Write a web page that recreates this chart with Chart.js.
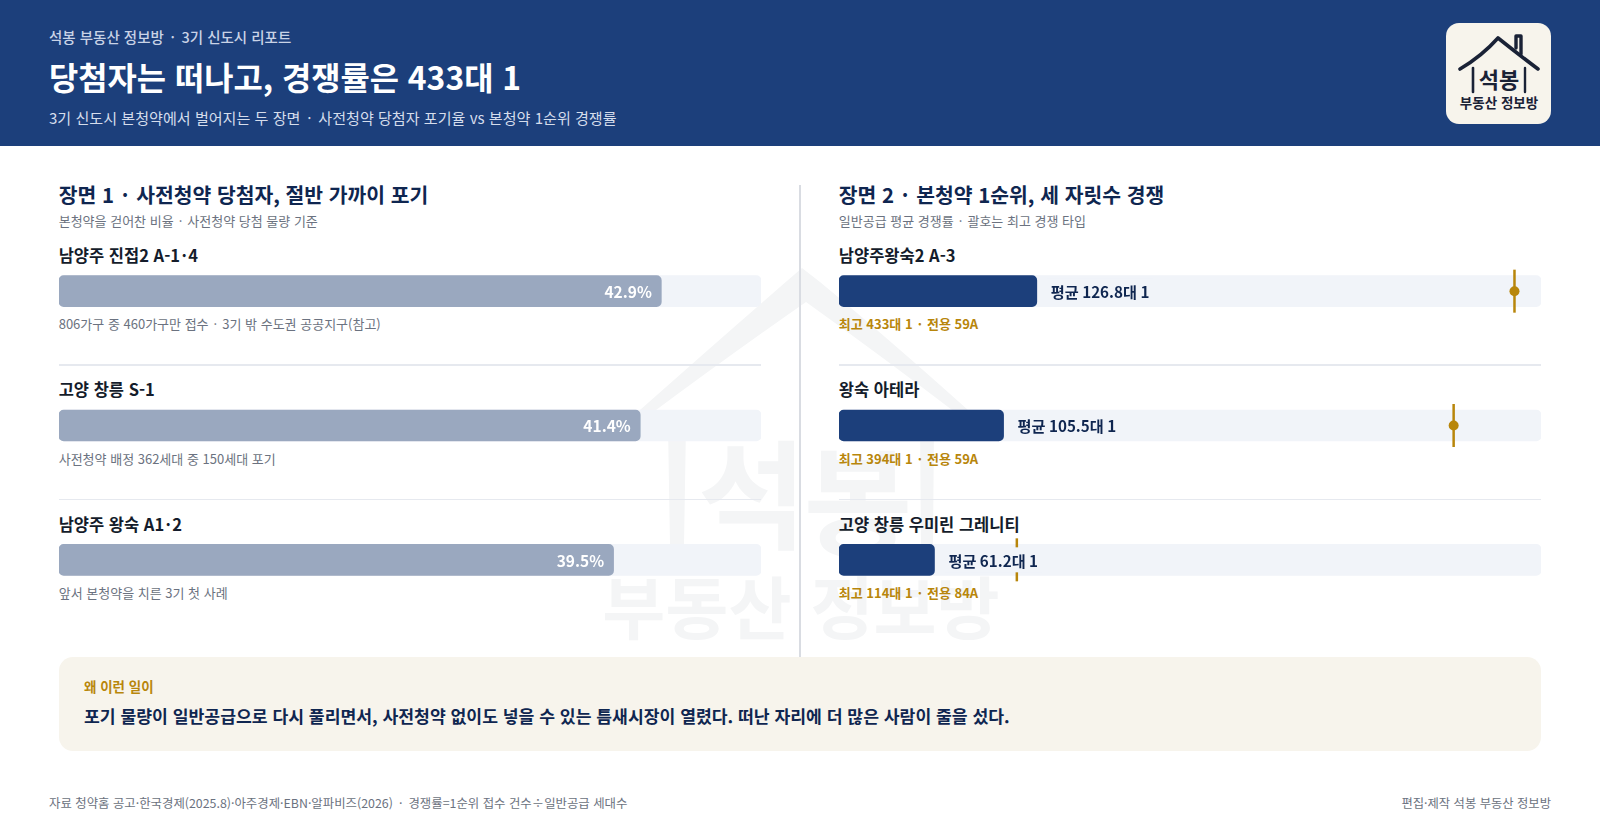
<!DOCTYPE html>
<html lang="ko"><head><meta charset="utf-8">
<script src="https://cdn.jsdelivr.net/npm/chart.js@4"></script>
<style>
*{margin:0;padding:0;box-sizing:border-box}
html,body{width:1600px;height:829px;overflow:hidden;background:#fff;font-family:"Noto Sans CJK KR","Noto Sans",sans-serif}
.t{position:absolute;white-space:nowrap;line-height:24px;height:24px}
.d{margin:0 2.6px}
.s{margin:0 2.1px}
.m{margin:0 1.4px}
.n{margin:0 1.4px}
#hdr{position:absolute;left:0;top:0;width:1600px;height:146px;background:#1c3f7b}
#logo{position:absolute;left:1446px;top:23px;width:105px;height:101px;background:#f7f4ec;border-radius:13px}
#wm{position:absolute;left:580px;top:260px}
canvas{display:block}
.cv{position:absolute;top:224px;width:702.4px;height:403.5px}
.sep{position:absolute;height:1.5px;width:702.4px;background:#e6e9ef}
#div{position:absolute;left:799px;top:185px;width:2px;height:472px;background:#d9dce2}
#box{position:absolute;left:58.7px;top:657px;width:1482.3px;height:94px;background:#f7f4ec;border-radius:14px}
.sec{font-size:20.4px;font-weight:700;color:#0f2650}
.secsub{font-size:13px;color:#6b7280}
.name{font-size:16.5px;font-weight:600;color:#141c2b}
.note{font-size:13px;color:#6b7280}
.gold{font-size:13px;font-weight:600;color:#b8860b}
</style></head><body>
<svg id="wm" width="440" height="400" viewBox="0 0 440 400">
 <g fill="#f4f5f6">
  <path d="M60 150 Q150 70 222 8 L240 22 Q310 80 388 150 L380 156 Q300 95 226 42 Q150 95 68 156 Z"/>
  <path d="M88 165 L106 165 L104 285 L90 285 Z"/>
  <path d="M340 165 L354 165 L353 285 L341 285 Z"/>
 </g>
 <text x="172" y="280" text-anchor="middle" font-size="118" font-weight="700" fill="#f4f5f6" font-family="Noto Sans CJK KR">석</text>
 <text x="278" y="287" text-anchor="middle" font-size="118" font-weight="700" fill="#f4f5f6" font-family="Noto Sans CJK KR">봉</text>
 <text x="221" y="374" text-anchor="middle" font-size="68.5" font-weight="700" fill="#f4f5f6" font-family="Noto Sans CJK KR">부동산 정보방</text>
</svg>
<div id="hdr"></div>
<div class="t" style="left:49px;top:25px;font-size:14.5px;font-weight:500;color:#c9d3e6">석봉 부동산 정보방 <span class="d">·</span> 3기 신도시 리포트</div>
<div class="t" style="left:49px;top:63px;font-size:31.8px;font-weight:700;color:#fff;line-height:26px;height:26px">당첨자는 떠나고, 경쟁률은 433대 1</div>
<div class="t" style="left:49px;top:106px;font-size:15.08px;color:#d5ddec">3기 신도시 본청약에서 벌어지는 두 장면 <span class="d">·</span> 사전청약 당첨자 포기율 vs 본청약 1순위 경쟁률</div>
<div id="logo"></div>
<svg style="position:absolute;left:1430px;top:10px" width="140" height="130" viewBox="0 0 140 130">
 <g fill="none" stroke="#1a2236" stroke-linecap="round" stroke-linejoin="round">
  <path d="M30 59 Q52 46 68 28 Q88 44 108 59" stroke-width="3.6"/>
  <path d="M86 38 V26 H91 V44" stroke-width="3.4"/>
  <path d="M43 58 V82" stroke-width="2.6"/>
  <path d="M95 58 V82" stroke-width="2.4"/>
 </g>
 <text x="69" y="78" text-anchor="middle" font-size="22" font-weight="700" fill="#1a2236" font-family="Noto Sans CJK KR">석봉</text>
 <text x="69" y="98" text-anchor="middle" font-size="13.5" font-weight="700" fill="#1a2236" font-family="Noto Sans CJK KR">부동산 정보방</text>
</svg>

<div class="t sec" style="left:58.7px;top:182px">장면 1 <span class="s">·</span> 사전청약 당첨자, 절반 가까이 포기</div>
<div class="t secsub" style="left:58.7px;top:209px">본청약을 걷어찬 비율 <span class="m">·</span> 사전청약 당첨 물량 기준</div>
<div class="t sec" style="left:838.8px;top:182px">장면 2 <span class="s">·</span> 본청약 1순위, 세 자릿수 경쟁</div>
<div class="t secsub" style="left:838.8px;top:209px">일반공급 평균 경쟁률 <span class="m">·</span> 괄호는 최고 경쟁 타입</div>
<div id="div"></div>
<div class="sep" style="left:58.7px;top:364px"></div><div class="sep" style="left:58.7px;top:498.6px"></div>
<div class="sep" style="left:838.8px;top:364px"></div><div class="sep" style="left:838.8px;top:498.6px"></div>
<div id="rows"></div>
<div class="cv" style="left:58.7px"><canvas id="c1" width="702" height="403"></canvas></div>
<div class="cv" style="left:838.8px"><canvas id="c2" width="702" height="403"></canvas></div>
<div id="box"></div>
<div class="t" style="left:84px;top:673.5px;font-size:13.5px;font-weight:600;color:#b8860b">왜 이런 일이</div>
<div class="t" style="left:84px;top:703.5px;font-size:17.2px;font-weight:700;color:#0f2650">포기 물량이 일반공급으로 다시 풀리면서, 사전청약 없이도 넣을 수 있는 틈새시장이 열렸다. 떠난 자리에 더 많은 사람이 줄을 섰다.</div>
<div class="t" style="left:49px;top:791px;font-size:12.4px;color:#6b7280">자료 청약홈 공고·한국경제(2025.8)·아주경제·EBN·알파비즈(2026) <span class="d">·</span> 경쟁률=1순위 접수 건수÷일반공급 세대수</div>
<div class="t" style="right:49px;top:791px;font-size:12.3px;color:#6b7280">편집·제작 석봉 부동산 정보방</div>
<script>
const giveUpNames = ['남양주 진접2 A-1·4','고양 창릉 S-1','남양주 왕숙 A1·2'];
const giveUpRates = [42.9,41.4,39.5];
const giveUpNotes = ['806가구 중 460가구만 접수 · 3기 밖 수도권 공공지구(참고)','사전청약 배정 362세대 중 150세대 포기','앞서 본청약을 치른 3기 첫 사례'];
const giveUpMax = 50;
const compNames = ['남양주왕숙2 A-3','왕숙 아테라','고양 창릉 우미린 그레니티'];
const compAvg = [126.8,105.5,61.2];
const compTop = [433,394,114];
const compTypes = ['59A','59A','84A'];
const compMax = 450;

const NAVY='#1c3f7b', GREY='#9aa8bf', TRACK='#f1f4f9', GOLD='#b8860b', INK='#0f2650';
const rowsEl=document.getElementById('rows');
const rowTops=[242.5,377,511.5], noteTops=[312,446.5,581];
function addT(x,y,cls,txt,dotCls){const d=document.createElement('div');d.className='t '+cls;d.style.left=x+'px';d.style.top=y+'px';
  txt.split('·').forEach((p,i)=>{if(i){const s=document.createElement('span');s.className=dotCls;s.textContent='·';d.appendChild(s);}d.appendChild(document.createTextNode(p));});
  rowsEl.appendChild(d);}
giveUpNames.forEach((n,i)=>{addT(58.7,rowTops[i],'name',n,'n');addT(58.7,noteTops[i],'note',giveUpNotes[i],'m');});
compNames.forEach((n,i)=>{addT(838.8,rowTops[i],'name',n,'n');addT(838.8,noteTops[i],'gold','최고 '+compTop[i]+'대 1 · 전용 '+compTypes[i],'m');});

const valueLabels={id:'valueLabels',afterDatasetsDraw(chart,a,o){
  const {ctx,scales:{x,y}}=chart;ctx.save();ctx.textBaseline='middle';
  o.values.forEach((v,i)=>{
    const yp=y.getPixelForValue(i), end=x.getPixelForValue(v);
    ctx.font=o.font;
    if(o.inside){ctx.fillStyle='#fff';ctx.textAlign='right';ctx.fillText(v.toFixed(1)+'%',end-9.5,yp+1);}
    else{const s='평균 '+v.toFixed(1)+'대 1', w=ctx.measureText(s).width;
      ctx.fillStyle=TRACK;ctx.fillRect(end+10,yp-12.5,w+8,25);
      ctx.fillStyle=INK;ctx.textAlign='left';ctx.fillText(s,end+14,yp+1);}
  });ctx.restore();}};
const base=(max)=>({responsive:false,animation:false,indexAxis:'y',maintainAspectRatio:false,
  layout:{padding:0,autoPadding:false},events:[],
  scales:{x:{type:'linear',display:false,min:0,max:max,grid:{display:false}},
          y:{type:'category',display:false,grid:{display:false},offset:true}}});
const barDs=(data,color,order)=>({type:'bar',data,backgroundColor:color,barThickness:31,grouped:false,borderRadius:5,borderSkipped:false,order});

function mk(id,cfg){const c=document.getElementById(id);return new Chart(c,cfg);}
mk('c1',{type:'bar',plugins:[valueLabels],data:{labels:giveUpNames,datasets:[
   barDs(giveUpNames.map(()=>giveUpMax),TRACK,2),barDs(giveUpRates,GREY,1)]},
  options:{...base(giveUpMax),plugins:{legend:{display:false},tooltip:{enabled:false},
    valueLabels:{values:giveUpRates,inside:true,font:'600 15.5px "Noto Sans CJK KR"'}}}});
mk('c2',{type:'bar',plugins:[valueLabels],data:{labels:compNames,datasets:[
   barDs(compNames.map(()=>compMax),TRACK,4),barDs(compAvg,NAVY,3),
   {type:'scatter',data:compTop.map((v,i)=>({x:v,y:compNames[i]})),pointStyle:'line',rotation:90,pointRadius:21.5,borderColor:GOLD,pointBorderColor:GOLD,pointBorderWidth:2.5,order:2,clip:false},
   {type:'scatter',data:compTop.map((v,i)=>({x:v,y:compNames[i]})),pointStyle:'circle',pointRadius:5,backgroundColor:GOLD,pointBackgroundColor:GOLD,pointBorderWidth:0,order:1,clip:false}]},
  options:{...base(compMax),plugins:{legend:{display:false},tooltip:{enabled:false},
    valueLabels:{values:compAvg,inside:false,font:'600 15.2px "Noto Sans CJK KR"'}}}});
</script>
</body></html>
